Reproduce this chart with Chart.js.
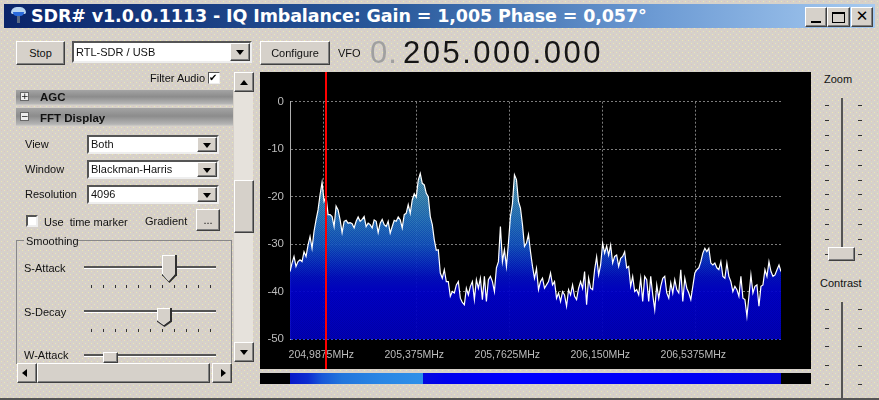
<!DOCTYPE html>
<html><head><meta charset="utf-8">
<script src="https://cdn.jsdelivr.net/npm/chart.js@4"></script>
<style>
html,body{margin:0;padding:0;width:879px;height:400px;overflow:hidden;background:#d4d0c8}
#win{position:absolute;left:0;top:0;width:879px;height:400px;overflow:hidden;
 font:11px "Liberation Sans",Arial,sans-serif;color:#111;
 background-color:#d6d1ca;
 background-image:url("data:image/svg+xml,%3Csvg xmlns='http://www.w3.org/2000/svg' width='6' height='6' shape-rendering='crispEdges'%3E%3Crect x='1' y='1' width='1' height='1' fill='%23ece8b4'/%3E%3Crect x='4' y='4' width='1' height='1' fill='%23ece8b4'/%3E%3Crect x='4' y='1' width='1' height='1' fill='%23dcc4c0'/%3E%3Crect x='1' y='4' width='1' height='1' fill='%23dcc4c0'/%3E%3C/svg%3E");}
#win div,#win canvas{position:absolute;white-space:nowrap}
.raised{background:#d6d1ca;border:1px solid;border-color:#fff #404040 #404040 #fff;box-sizing:border-box;box-shadow:inset -1px -1px 0 #808080;text-align:center;line-height:21px}
.sunk{background:#fff;border:2px solid;border-color:#555 #eee #eee #555;box-sizing:border-box;padding-left:2px}
.hdr{background:linear-gradient(#a4a4a4,#8c8c8c 45%,#b4b4b4 90%,#d0cdc8)}
.tri{width:0;height:0;border-left:4px solid transparent;border-right:4px solid transparent;border-top:5px solid #000}
.tick{background:#333}
.track{background:#555;border-bottom:1px solid #fff}
</style></head><body>
<div id="win">
<div id="title" style="left:4px;top:4px;width:871px;height:24px;background:linear-gradient(90deg,#0a246a,#2a5a9c 45%,#6d9bd4 75%,#a6caf0)"></div>
<div id="t" style="left:31px;top:4px;height:24px;font:bold 17.5px/24px 'DejaVu Sans',sans-serif;color:#fff;letter-spacing:-0.12px">SDR# v1.0.0.1113 - IQ Imbalance: Gain = 1,005 Phase = 0,057°</div>
<div id="panel" style="left:260px;top:72px;width:551px;height:297px;background:#000"></div>
<canvas id="c" style="left:260px;top:72px" width="551" height="297"></canvas>
<div id="wf" style="left:260px;top:373px;width:551px;height:11px;background:linear-gradient(90deg,#000 0,#000 30px,#0818c8 30px,#0c2cd0 48px,#1858d8 62px,#2276dc 82px,#2a86e4 120px,#2e90e8 163px,#0408e0 163.5px,#0000ec 185px,#0000ff 260px,#0000f4 440px,#0808e0 521px,#000 521.5px)"></div>
</div>
<script>
// ---- chart data ----
const tickFreqs  = [204.9875, 205.375, 205.7625, 206.15, 206.5375];
const tickLabels = ['204,9875MHz','205,375MHz','205,7625MHz','206,150MHz','206,5375MHz'];
const dbTicks    = [0,-10,-20,-30,-40,-50];
const vfoFreq    = 205.000;
const freqMin    = 204.8488;
const freqMax    = 206.8946;
const binWidth   = 0.00835;
const spectrumDb = [
-35.8,-34.0,-32.6,-34.7,-33.7,-33.3,-33.7,-31.6,-32.6,-30.2,-28.4,-30.9,-27.3,-24.9,-22.8,-19.6,-17.0,-21.0,-20.0,-23.8,
-23.8,-24.2,-26.3,-22.0,-22.8,-24.9,-27.6,-25.2,-25.0,-25.6,-25.5,-25.7,-26.6,-25.2,-24.3,-25.2,-24.8,-24.2,-26.3,-25.6,
-25.9,-26.6,-24.9,-25.2,-27.6,-25.6,-24.8,-25.9,-26.3,-25.2,-27.7,-26.3,-25.0,-25.2,-24.3,-24.9,-26.6,-23.8,-23.5,-21.7,
-23.5,-20.7,-19.4,-20.1,-16.5,-15.1,-17.2,-17.5,-19.3,-20.0,-24.2,-25.9,-29.1,-31.3,-31.2,-36.1,-37.2,-35.4,-37.9,-37.9,
-41.0,-40.0,-40.3,-38.6,-37.9,-41.4,-42.3,-42.8,-39.3,-40.7,-38.9,-37.9,-41.7,-37.5,-39.3,-37.2,-41.7,-36.8,-42.1,-37.5,
-36.8,-37.9,-40.0,-35.0,-33.7,-26.3,-33.7,-31.2,-34.7,-29.8,-24.2,-21.5,-15.4,-16.4,-21.0,-22.4,-25.9,-30.5,-29.8,-28.0,
-31.6,-34.7,-37.2,-35.1,-39.6,-37.9,-37.2,-39.3,-38.6,-37.9,-36.1,-38.6,-37.9,-41.4,-40.3,-42.1,-40.0,-40.7,-43.1,-39.6,
-40.7,-38.6,-41.0,-41.7,-39.3,-37.9,-39.3,-35.8,-42.8,-37.2,-39.3,-39.6,-35.4,-32.7,-36.5,-34.4,-29.8,-31.9,-30.4,-32.3,
-30.2,-34.0,-32.6,-32.3,-34.7,-33.0,-32.6,-31.6,-35.0,-34.7,-38.9,-36.8,-40.0,-39.6,-40.7,-37.2,-42.1,-36.8,-37.5,-42.1,
-36.8,-40.7,-43.8,-38.6,-41.4,-38.9,-37.2,-36.8,-40.3,-41.4,-38.2,-40.3,-37.5,-39.6,-40.3,-35.4,-42.1,-37.2,-39.3,-40.3,
-41.7,-38.9,-36.1,-35.4,-35.0,-33.7,-31.9,-30.9,-31.6,-30.9,-34.0,-34.4,-34.0,-35.0,-35.4,-33.7,-36.8,-37.2,-34.0,-36.8,
-37.9,-40.0,-38.9,-39.6,-41.0,-36.8,-41.4,-41.7,-45.2,-41.0,-36.5,-40.3,-38.9,-38.6,-43.1,-38.9,-38.6,-35.4,-36.8,-33.7,
-35.8,-36.8,-36.5,-35.4,-34.4,-35.8];
const fillStopsDb = [-14,-20,-25,-30,-34,-37,-40,-50];
const fillColorsA = ['#6ea4bc','#4a94bc','#2f7ec4','#1e62c4','#0c38c8','#0414c8','#0000c4','#0000b0'];
const fillColorsB = ['#3f86a8','#2c78b0','#1a64bc','#0c48c0','#0420c0','#0008c0','#0000d4','#0000c4'];

// ---- window chrome ----
const win=document.getElementById('win');
function el(cls,x,y,w,h,txt,st){const d=document.createElement('div');d.className=cls;d.style.cssText=`left:${x}px;top:${y}px;`+(w?`width:${w}px;`:'')+(h?`height:${h}px;`:'')+(st||'');if(txt)d.textContent=txt;win.appendChild(d);return d;}
function label(x,y,t,st){return el('',x,y-7,0,0,t,'line-height:14px;'+(st||''));}
function combo(x,y,w,h,t){el('sunk',x,y,w,h,t,`line-height:${h-4}px;`);el('raised',x+w-22,y+2,20,h-4);el('tri',x+w-16,y+h/2-2,0,0);}
function ticks(xs,y,w,h){xs.forEach(x=>el('tick',x,y,w,h));}
const POINTED='clip-path:polygon(0 0,100% 0,100% 72%,50% 100%,0 72%);';
function thumb(x,y,w,h){el('',x,y,w,h,'','background:#303030;'+POINTED);el('',x,y,w-2,h-2,'','background:#fff;'+POINTED);el('',x+1,y+1,w-3,h-3,'','background:#d6d1ca;'+POINTED);}

// title icon
el('',11,7,15,7,'','background:#b8d4f0;border-radius:8px 8px 2px 2px;');
el('',13,12,11,4,'','background:#2a6adc;border-radius:0 0 6px 6px;');
el('',17,16,3,7,'','background:#5a6a84;');
// window buttons
el('raised',805,7,22,20);el('',811,21,10,2,'','background:#000');
el('raised',827,7,23,20);el('',832,12,13,11,'','border:1px solid #000;border-top-width:2px;box-sizing:border-box');
el('raised',851,7,22,20,'✕','font:bold 15px/17px "DejaVu Sans";color:#000');

el('raised',16,41,49,24,'Stop','line-height:22px');
combo(72,41,180,22,'RTL-SDR / USB');
el('raised',260,41,70,24,'Configure','line-height:22px');
label(338,53,'VFO');
el('',370,38,0,0,'0.','font:31px/30px "Liberation Sans";color:#a0a0a0;letter-spacing:1px');
el('',403,38,0,0,'205.000.000','font:31px/30px "Liberation Sans";color:#151515;letter-spacing:2.5px');

label(150,78,'Filter Audio');
el('sunk',208,72,12,12,'✔','font:10px/9px "DejaVu Sans";padding:0;color:#000;border-width:1px');
// vertical scrollbar
el('',234,92,19,250,'','background:#e6e2dc');
el('raised',234,72,20,20);el('tri',240,80,0,0,'','border-top:0;border-bottom:5px solid #000');
el('raised',234,180,20,53);
el('raised',234,342,20,20);el('tri',240,350,0,0);
// collapsible headers
el('hdr',16,90,217,15);label(40,97,'AGC','font-weight:bold;font-size:11.5px');
el('hdr',16,108,217,18);label(40,118,'FFT Display','font-weight:bold;font-size:11.5px');
el('',20,92,7,7,'+','background:#eee;border:1px solid #666;font:9px/7px "DejaVu Sans";text-align:center');
el('',20,112,7,7,'−','background:#eee;border:1px solid #666;font:9px/7px "DejaVu Sans";text-align:center');
label(25,144,'View');combo(87,135,132,19,'Both');
label(25,169,'Window');combo(87,160,132,19,'Blackman-Harris');
label(25,194,'Resolution');combo(87,185,132,19,'4096');
el('sunk',26,215,12,12);label(44,222,'Use  time marker','white-space:pre');label(145,221,'Gradient');
el('raised',196,209,24,22,'...');
// smoothing group
el('',16,240,216,124,'','border:1px solid #888;border-bottom:0;box-sizing:border-box');
el('',24,236,54,12,'','background:#d6d1ca');label(26,241,'Smoothing');
const tx=[91,103,115,126,138,150,162,174,186,198,210];
label(24,268,'S-Attack');el('track',84,266,132,2);ticks(tx,285,1,3);
thumb(162,255,15,28);
label(24,312,'S-Decay');el('track',84,310,132,2);ticks(tx,329,1,3);
thumb(157,308,15,19);
label(24,355,'W-Attack');el('track',84,354,132,2);
el('raised',103,352,15,11);
// horizontal scrollbar
el('raised',17,363,20,20);el('tri',22,369,0,0,'','border:4px solid transparent;border-left:0;border-right:5px solid #000');
el('raised',37,363,173,20);
el('raised',212,363,20,20);el('tri',221,369,0,0,'','border:4px solid transparent;border-right:0;border-left:5px solid #000');
// right sliders
label(824,79,'Zoom');el('track',841,98,2,156);
[105,120,135,150,165,180,194,209,224,239,254].forEach(y=>{el('tick',825,y,4,1);el('tick',858,y,4,1);});
el('raised',828,247,27,14);
label(820,283,'Contrast');el('track',841,302,2,96);
[309,328,346,365,384].forEach(y=>{el('tick',825,y,4,1);el('tick',858,y,4,1);});
el('',0,398,879,2,'','background:#555');

// ---- chart ----
function hex(c){return [1,3,5].map(i=>parseInt(c.substr(i,2),16));}
function buildFill(y){
  const H=297,cv=document.createElement('canvas');cv.width=2;cv.height=H;const g=cv.getContext('2d');
  for(let py=0;py<H;py++){
    const db=y.getValueForPixel(py);
    let k=fillStopsDb.findIndex((s,i)=>i<fillStopsDb.length-1&&db<=s&&db>=fillStopsDb[i+1]);
    if(k<0)k=db>fillStopsDb[0]?0:fillStopsDb.length-2;
    const t=Math.min(1,Math.max(0,(fillStopsDb[k]-db)/(fillStopsDb[k]-fillStopsDb[k+1])));
    [fillColorsA,fillColorsB].forEach((C,col)=>{
      const a=hex(C[k]),b=hex(C[k+1]),m=a.map((v,i)=>Math.round(v+(b[i]-v)*t));
      g.fillStyle=`rgba(${m},0.93)`;g.fillRect((col+py)%2,py,1,1);
    });
  }
  return g.createPattern(cv,'repeat');
}
const vfoLine={id:'vfoLine',afterDatasetsDraw(ch){
  const x=Math.round(ch.scales.x.getPixelForValue(vfoFreq)),c=ch.ctx;
  c.save();c.fillStyle='#ff0000';c.fillRect(x-1,0,2,ch.height);c.restore();}};
const points=spectrumDb.map((v,i)=>({x:freqMin+i*binWidth,y:v}));
const chart=new Chart(document.getElementById('c'),{
  type:'line',
  data:{datasets:[{data:points,borderColor:'#ffffff',borderWidth:1.2,pointRadius:0,tension:0,
     fill:{value:-50},
     backgroundColor:(ctx)=>{const y=ctx.chart.scales.y;return y?buildFill(y):'#0000c0';}}]},
  plugins:[vfoLine],
  options:{responsive:false,animation:false,devicePixelRatio:1,
    layout:{padding:{left:0,right:30,top:29.7,bottom:0}},
    plugins:{legend:{display:false},tooltip:{enabled:false}},
    scales:{
      x:{type:'linear',min:freqMin,max:freqMax,
        afterBuildTicks(s){s.ticks=tickFreqs.map(v=>({value:v}));},
        afterFit(s){s.height=30;s.paddingLeft=0;s.paddingRight=0;},
        border:{display:true,color:'rgba(0,0,0,0)',dash:[2,2]},
        grid:{color:'#7c7c7c',lineWidth:1,drawTicks:false},
        ticks:{autoSkip:false,maxRotation:0,color:'#bcbcbc',font:{family:'Liberation Sans',size:10.5},padding:10,labelOffset:-2,
          callback:(v)=>tickLabels[tickFreqs.indexOf(v)]}},
      y:{min:-50,max:0,
        afterBuildTicks(s){s.ticks=dbTicks.map(v=>({value:v}));},
        afterFit(s){s.width=30;},
        border:{display:true,color:'#b0b0b0',dash:[2,2]},
        grid:{color:(c)=>c.tick&&c.tick.value===-50?'#2c3ce4':'#7c7c7c',drawTicks:false},
        ticks:{color:'#bcbcbc',font:{family:'Liberation Sans',size:11.5},padding:6,autoSkip:false}}
    }
  }
});
</script>
</body></html>
